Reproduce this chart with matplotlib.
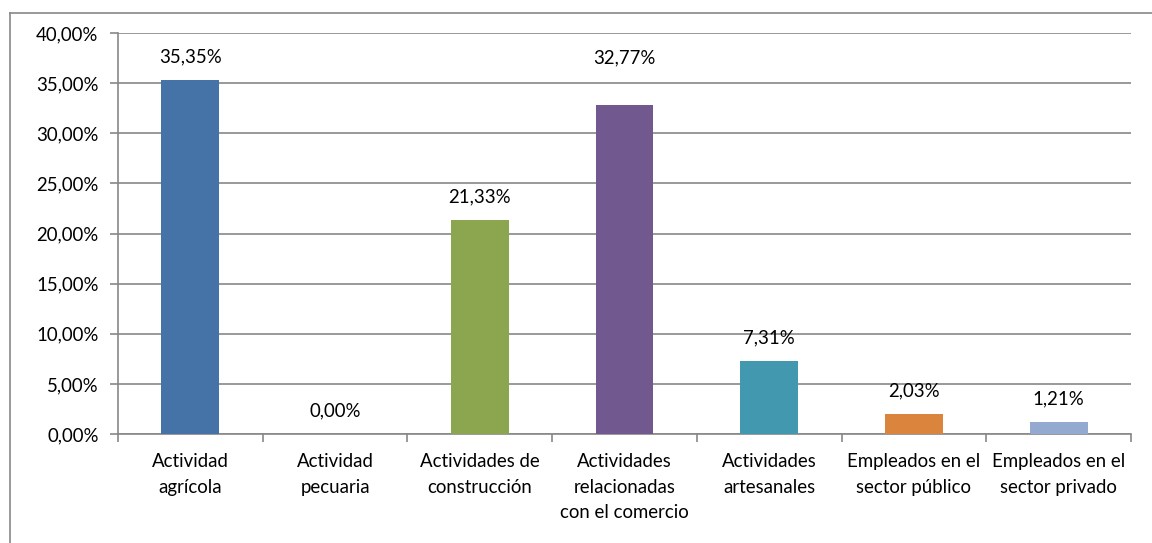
import numpy as np
import matplotlib.pyplot as plt
from matplotlib.lines import Line2D
from matplotlib.ticker import FixedLocator

plt.rcParams['font.family'] = ['Lato', 'DejaVu Sans']

categories = ["Actividad\nagrícola", "Actividad\npecuaria", "Actividades de\nconstrucción",
              "Actividades\nrelacionadas\ncon el comercio", "Actividades\nartesanales",
              "Empleados en el\nsector público", "Empleados en el\nsector privado"]
values = [35.35, 0.00, 21.33, 32.77, 7.31, 2.03, 1.21]
colors = ["#4573A7", "#4573A7", "#8BA64F", "#71588F", "#4198AF", "#DB843D", "#93A9CF"]

# label of the 4th bar sits higher in the original
label_y_override = {3: 37.5}

fs = 13.4

fig = plt.figure(figsize=(11.52, 5.43), dpi=100)
ax = fig.add_axes([118/1152, 1-434/543, (1131-118)/1152, (434-33)/543])

x = np.arange(len(values))
ax.bar(x, values, width=0.4, color=colors, zorder=3)

for i, v in enumerate(values):
    y = label_y_override.get(i, v + 2.3)
    ax.text(i, y, f"{v:.2f}%".replace(".", ","), ha="center", va="center", fontsize=fs)

ax.set_xlim(-0.5, len(values) - 0.5)
ax.set_ylim(0, 40)
ax.set_yticks(np.arange(0, 40.1, 5))
ax.set_yticklabels([f"{t:.2f}%".replace(".", ",") for t in np.arange(0, 40.1, 5)], fontsize=fs)
ax.set_xticks(x)
ax.set_xticklabels(categories, fontsize=fs, linespacing=1.6, va="top")
ax.tick_params(axis="x", length=0, pad=14)
ax.xaxis.set_minor_locator(FixedLocator(np.arange(-0.5, len(values), 1)))
ax.tick_params(axis="x", which="minor", length=6, color="#888888", width=1.2)
ax.tick_params(axis="y", length=6, color="#888888", width=1.2, pad=8)

ax.grid(axis="y", color="#888888", linewidth=1.2, zorder=0)
for s in ["top", "right"]:
    ax.spines[s].set_visible(False)
for s in ["left", "bottom"]:
    ax.spines[s].set_color("#888888")
    ax.spines[s].set_linewidth(1.2)

# outer chart frame
fig.add_artist(Line2D([10/1152, 1], [1-13/543, 1-13/543], color="#888888", lw=1.2))
fig.add_artist(Line2D([10/1152, 10/1152], [0, 1-13/543], color="#888888", lw=1.2))

fig.savefig("out.png", dpi=100)
